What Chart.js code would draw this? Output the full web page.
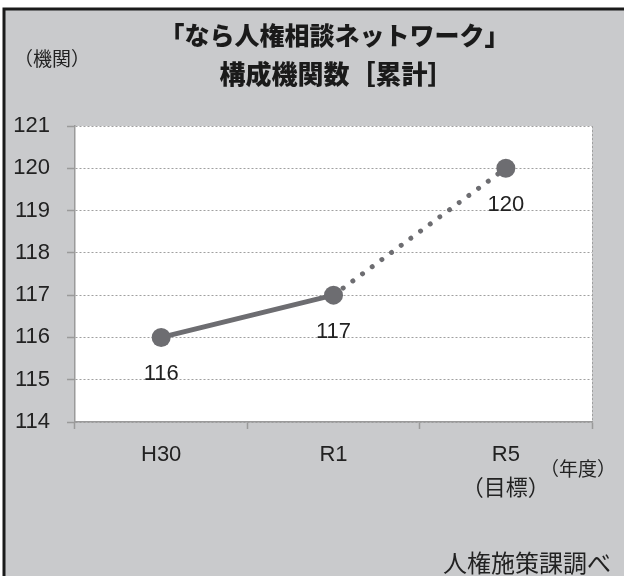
<!DOCTYPE html>
<html>
<head>
<meta charset="utf-8">
<script src="https://cdn.jsdelivr.net/npm/chart.js@4/dist/chart.umd.min.js"></script>
<style>
html,body{margin:0;padding:0;background:#fff;}
canvas{display:block;}
</style>
</head>
<body>
<canvas id="c" width="624" height="576"></canvas>
<script>
const categories = ['H30', 'R1', ['R5', '（目標）']];
const values = [116, 117, 120];
const yMin = 114;
const yMax = 121;
const titleLines = ['「なら人権相談ネットワーク」', '構成機関数［累計］'];
const yUnit = '（機関）';
const xUnit = '（年度）';
const sourceNote = '人権施策課調べ';

const LINE = '#6d6d71';
const BG = '#c9cacc';
const NUM_FONT = '"Liberation Sans", Arial, "Noto Sans CJK JP", sans-serif';
const JP_FONT = '"Noto Sans CJK JP", "Liberation Sans", sans-serif';

const decor = {
  id: 'decor',
  beforeDraw(chart) {
    const ctx = chart.ctx, a = chart.chartArea;
    ctx.save();
    ctx.fillStyle = '#fff';
    ctx.fillRect(0, 0, chart.width, chart.height);
    ctx.fillStyle = BG;
    ctx.fillRect(3, 8, chart.width - 3, chart.height - 8);
    ctx.strokeStyle = '#1a1a1a';
    ctx.lineWidth = 3;
    ctx.beginPath();
    ctx.moveTo(chart.width, 9); ctx.lineTo(4, 9); ctx.lineTo(4, chart.height);
    ctx.stroke();
    ctx.fillStyle = '#fff';
    ctx.fillRect(a.left, a.top, a.right - a.left, a.bottom - a.top);
    ctx.restore();
  },
  afterDraw(chart) {
    const ctx = chart.ctx, a = chart.chartArea;
    ctx.save();
    // dotted right border of plot
    ctx.strokeStyle = '#a0a0a0';
    ctx.lineWidth = 1;
    ctx.setLineDash([2, 2]);
    ctx.beginPath();
    ctx.moveTo(a.right + 0.5, a.top); ctx.lineTo(a.right + 0.5, a.bottom);
    ctx.stroke();
    ctx.setLineDash([]);
    // title
    const cx = (a.left + a.right) / 2 + 1;
    ctx.fillStyle = '#1a1a1a';
    ctx.textAlign = 'center';
    ctx.textBaseline = 'middle';
    ctx.font = '900 25px ' + JP_FONT;
    ctx.fillText(titleLines[0], cx, 35);
    ctx.font = '900 26px ' + JP_FONT;
    ctx.fillText(titleLines[1], cx + 2, 74);
    // units
    ctx.font = '19px ' + JP_FONT;
    ctx.fillStyle = '#222';
    ctx.fillText(yUnit, 52, 59);
    ctx.fillText(xUnit, 578, 469);
    ctx.font = '24px ' + JP_FONT;
    ctx.textAlign = 'right';
    ctx.fillText(sourceNote, 611, 563);
    // data labels
    const meta = chart.getDatasetMeta(0);
    ctx.font = '22px ' + NUM_FONT;
    ctx.textAlign = 'center';
    meta.data.forEach((pt, i) => {
      ctx.fillText(String(values[i]), pt.x, pt.y + 37);
    });
    ctx.restore();
  }
};

new Chart(document.getElementById('c'), {
  type: 'line',
  data: {
    labels: categories,
    datasets: [{
      data: values,
      borderColor: LINE,
      backgroundColor: LINE,
      borderWidth: 5,
      borderCapStyle: 'round',
      pointRadius: 9.5,
      pointHoverRadius: 9.5,
      pointBorderWidth: 0,
      pointBackgroundColor: LINE,
      tension: 0,
      segment: {
        borderDash: ctx => ctx.p0DataIndex === 1 ? [0.01, 12] : undefined
      }
    }]
  },
  options: {
    responsive: false,
    animation: false,
    devicePixelRatio: 1,
    layout: { padding: { top: 126, right: 32, left: 0, bottom: 0 } },
    plugins: { legend: { display: false }, tooltip: { enabled: false } },
    scales: {
      x: {
        offset: true,
        grid: { offset: true, drawOnChartArea: false, drawTicks: true, tickLength: 7, tickColor: '#9a9a9a', tickWidth: 1.5 },
        border: { color: '#9a9a9a', width: 1.5 },
        ticks: {
          color: '#222',
          font: { family: NUM_FONT, size: 22, lineHeight: 1.55 },
          padding: 9,
          maxRotation: 0
        },
        afterFit(scale) { scale.height = 154; }
      },
      y: {
        min: yMin,
        max: yMax,
        grid: { color: '#a0a0a0', lineWidth: 1, tickLength: 8, tickColor: '#9a9a9a', tickWidth: 1.5 },
        border: { color: '#9a9a9a', width: 1.5, dash: [2, 2] },
        ticks: {
          stepSize: 1,
          color: '#222',
          font: { family: NUM_FONT, size: 22 },
          padding: 17
        },
        afterFit(scale) { scale.width = 75; }
      }
    }
  },
  plugins: [decor]
});
</script>
</body>
</html>
